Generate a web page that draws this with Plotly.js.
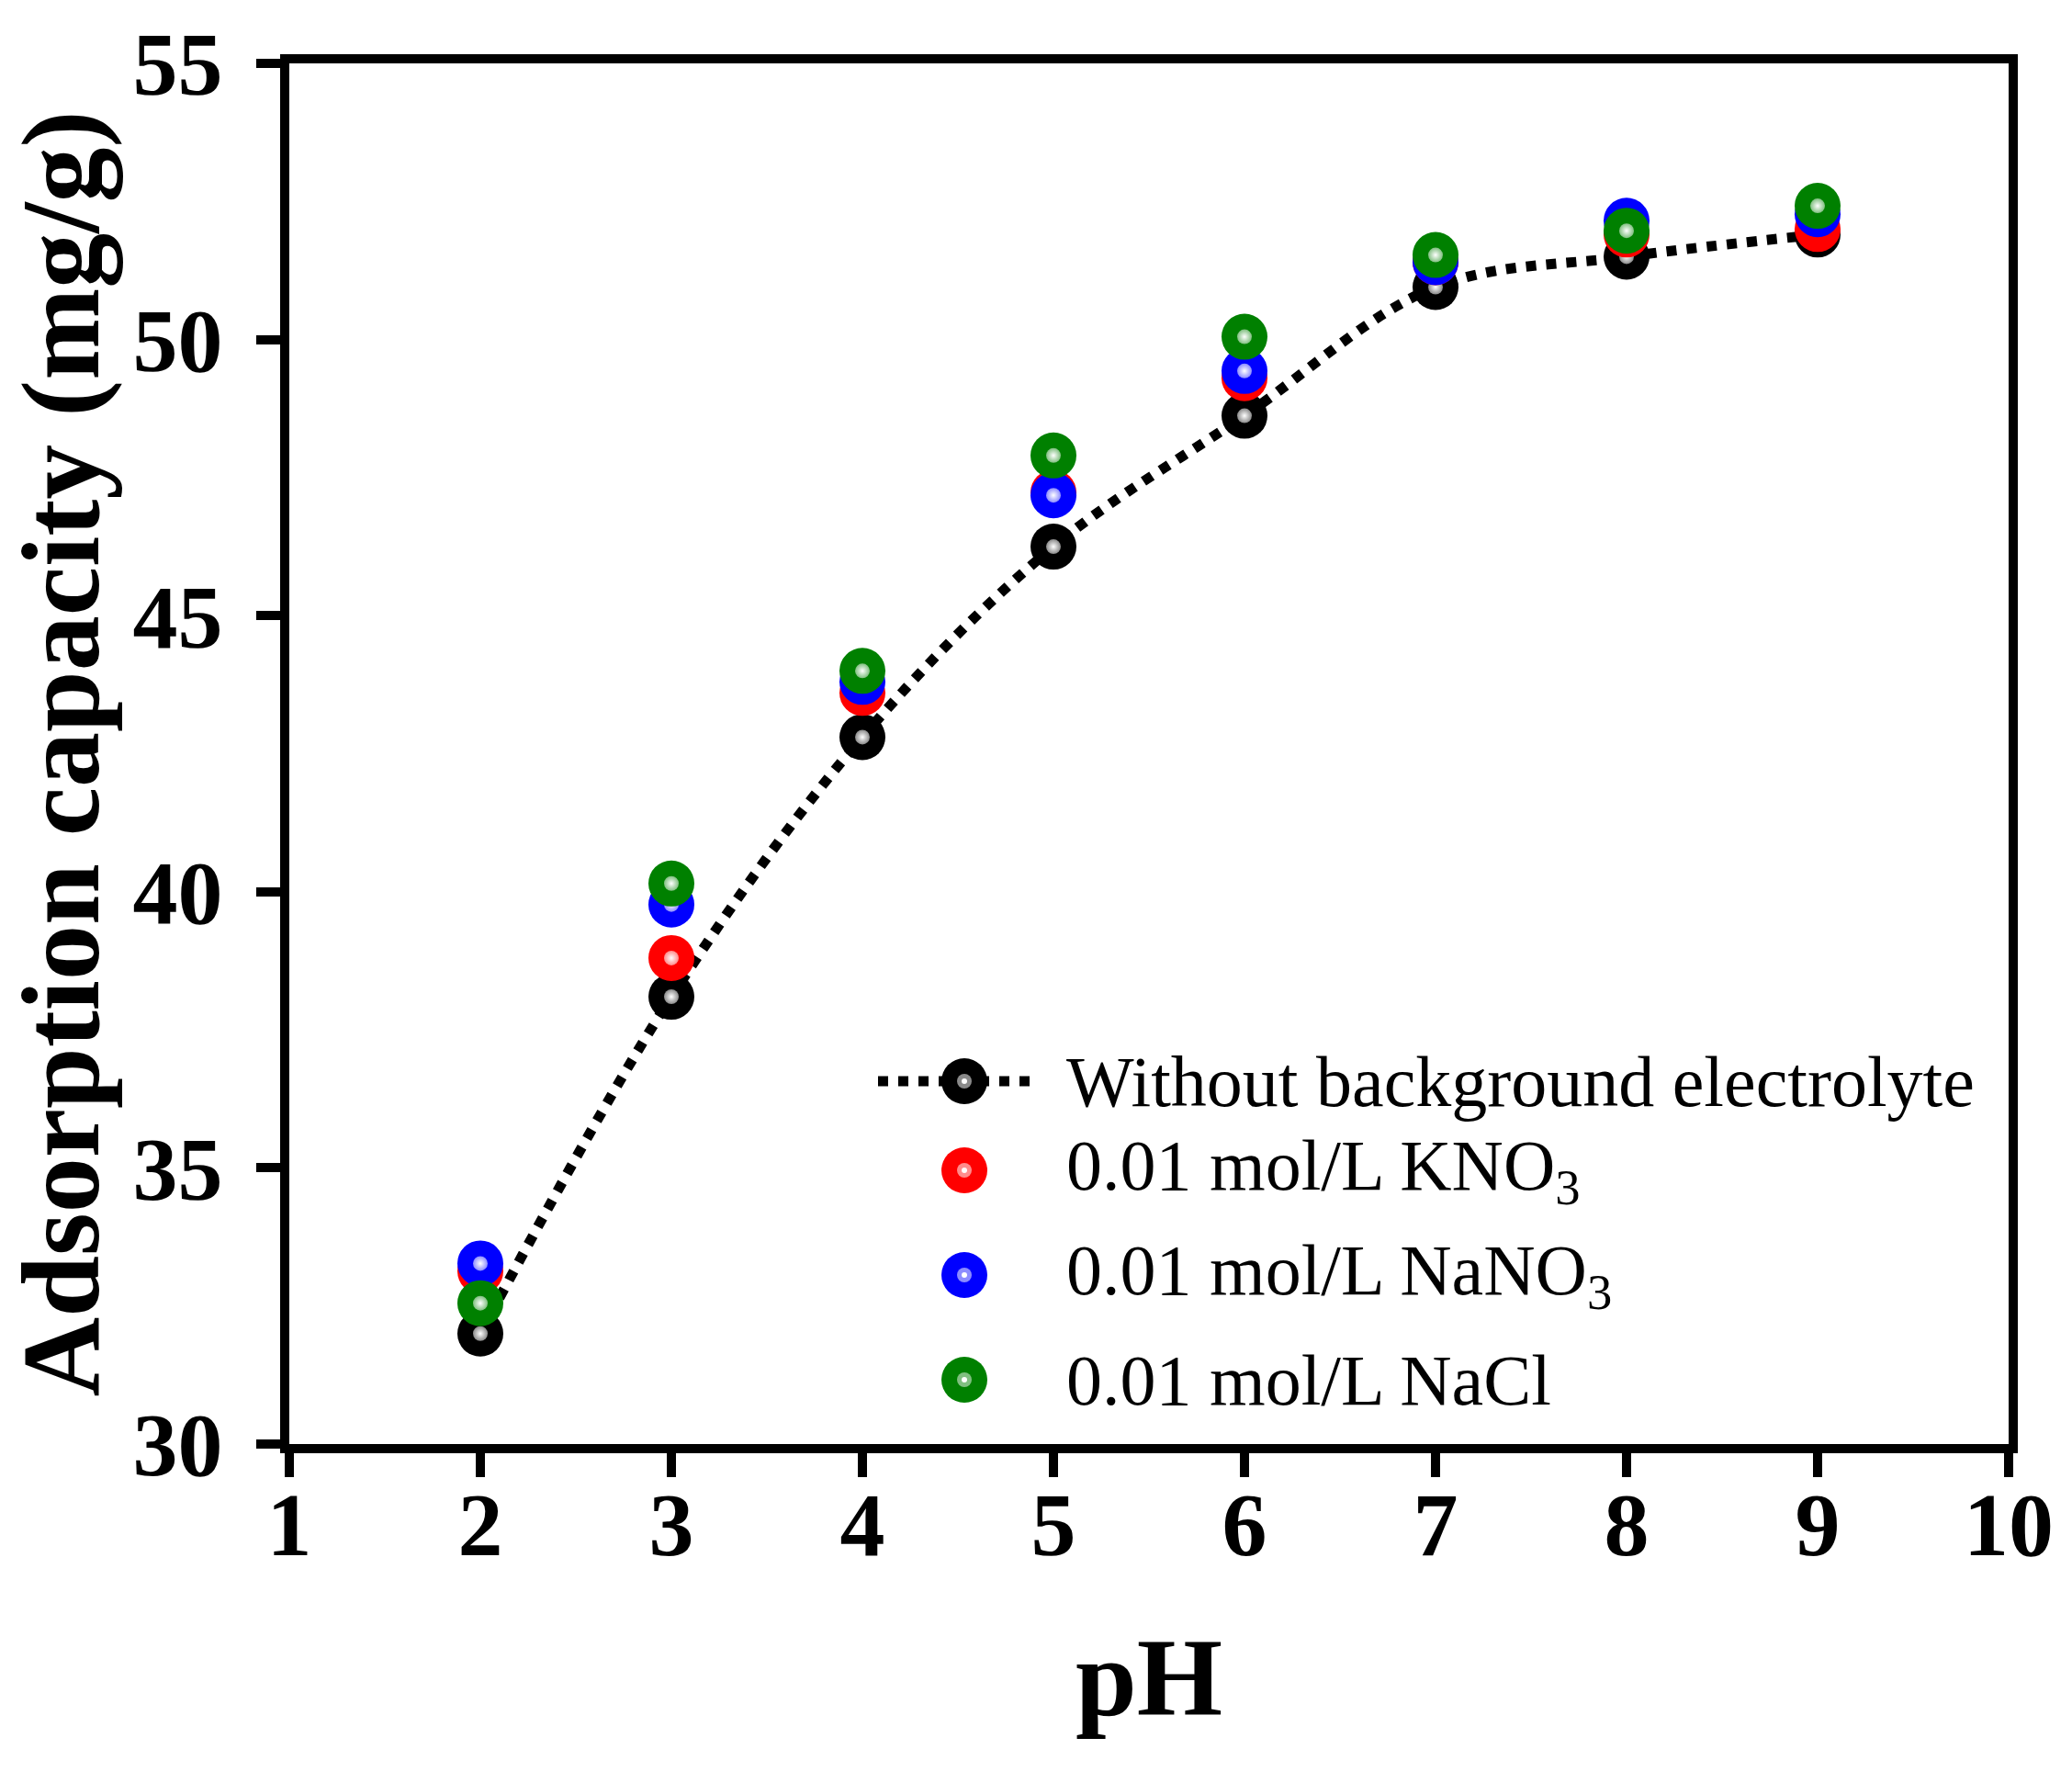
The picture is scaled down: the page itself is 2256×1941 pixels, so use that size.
<!DOCTYPE html>
<html>
<head>
<meta charset="utf-8">
<script src="https://cdn.plot.ly/plotly-3.0.1.min.js"></script>
<style>
  html, body { margin: 0; padding: 0; background: #fff; }
  #chart { width: 2256px; height: 1941px; }
</style>
</head>
<body>
<div id="chart"></div>
<script>
// values
const pH = [2, 3, 4, 5, 6, 7, 8, 9];
const withoutElectrolyte = [32.0, 38.1, 42.8, 46.25, 48.62, 50.95, 51.5, 51.9];
const kno3 = [33.13, 38.8, 43.6, 47.23, 49.3, 51.4, 51.9, 52.0];
const nano3 = [33.27, 39.77, 43.8, 47.18, 49.43, 51.4, 52.15, 52.27];
const nacl = [32.55, 40.15, 44.0, 47.9, 50.05, 51.53, 51.97, 52.42];

const xTicks = [1, 2, 3, 4, 5, 6, 7, 8, 9, 10];
const yTicks = [30, 35, 40, 45, 50, 55];

const seriesNames = [
    'Without background electrolyte',
    '0.01 mol/L KNO<sub>3</sub>',
    '0.01 mol/L NaNO<sub>3</sub>',
    '0.01 mol/L NaCl'
];
const seriesColors = ['#000000', '#ff0000', '#0000ff', '#008000'];
const ringColors = ['#8a8a8a', '#ff8c8c', '#8c8cff', '#80bf80'];

const serif = '"Liberation Serif", "Times New Roman", serif';

// plot area in page pixels
const W = 2256, H = 1941;
const M = { l: 315, r: 69, t: 69, b: 369 };
const plotW = W - M.l - M.r, plotH = H - M.t - M.b;
const px2x = px => (px - M.l) / plotW;
const px2y = py => (H - M.b - py) / plotH;

const dotLine = { color: '#000', width: 11, dash: '11px,11px' };

function ballTraces(y, i, withLine) {
    const main = {
        x: pH, y: y, type: 'scatter',
        mode: withLine ? 'lines+markers' : 'markers',
        marker: { size: 50, color: seriesColors[i], line: { width: 0 } },
        showlegend: false, hoverinfo: 'x+y'
    };
    if (withLine) {
        main.line = { ...dotLine, shape: 'spline', smoothing: 1 };
    }
    // little shine on each ball
    const shine = {
        x: pH, y: y, type: 'scatter', mode: 'markers',
        marker: { size: 16, color: ringColors[i], line: { width: 0 },
                  gradient: { type: 'radial', color: '#ffffff' } },
        showlegend: false, hoverinfo: 'skip'
    };
    return [main, shine];
}

const traces = [
    ...ballTraces(withoutElectrolyte, 0, true),
    ...ballTraces(kno3, 1, false),
    ...ballTraces(nano3, 2, false),
    ...ballTraces(nacl, 3, false)
];

// hand made legend (plotly caps legend symbols at 16px)
const legendRows = [1177, 1274, 1388, 1502];
const legendSymX = 1050, legendTextX = 1159;
const shapes = [{
    type: 'line', xref: 'paper', yref: 'paper',
    x0: px2x(956), x1: px2x(1121), y0: px2y(legendRows[0]), y1: px2y(legendRows[0]),
    line: dotLine
}];
const annotations = [];
legendRows.forEach((ry, i) => {
    const circ = (r, fill) => ({
        type: 'circle', xref: 'paper', yref: 'paper',
        xsizemode: 'pixel', ysizemode: 'pixel',
        xanchor: px2x(legendSymX), yanchor: px2y(ry),
        x0: -r, x1: r, y0: -r, y1: r,
        fillcolor: fill, line: { width: 0 }
    });
    shapes.push(circ(25, seriesColors[i]));
    shapes.push(circ(8, ringColors[i]));
    shapes.push(circ(3, '#ffffff'));
    annotations.push({
        xref: 'paper', yref: 'paper', x: px2x(legendTextX), y: px2y(ry),
        xanchor: 'left', yanchor: 'middle', showarrow: false,
        text: seriesNames[i],
        font: { family: serif, size: 78, color: '#000' }
    });
});

const axisCommon = {
    showline: true, linecolor: '#000', linewidth: 10, mirror: true,
    ticks: 'outside', ticklen: 26, tickwidth: 10, tickcolor: '#000',
    showgrid: false, zeroline: false,
    tickfont: { family: serif, size: 98, color: '#000', weight: 'bold' }
};

const layout = {
    width: W, height: H,
    margin: M,
    paper_bgcolor: '#fff', plot_bgcolor: '#fff',
    showlegend: false,
    xaxis: {
        ...axisCommon,
        range: [1, 10], tickvals: xTicks, ticktext: xTicks.map(String),
        ticklabelstandoff: -33,
        title: { text: 'pH', standoff: 74, font: { family: serif, size: 120, color: '#000', weight: 'bold' } }
    },
    yaxis: {
        ...axisCommon,
        range: [30, 55], tickvals: yTicks, ticktext: yTicks.map(String),
        ticklabelstandoff: 17,
        title: { text: 'Adsorption capacity (mg/g)', standoff: 20, font: { family: serif, size: 120, color: '#000', weight: 'bold' } }
    },
    shapes: shapes,
    annotations: annotations
};

Plotly.newPlot('chart', traces, layout, { staticPlot: true });
</script>
</body>
</html>
